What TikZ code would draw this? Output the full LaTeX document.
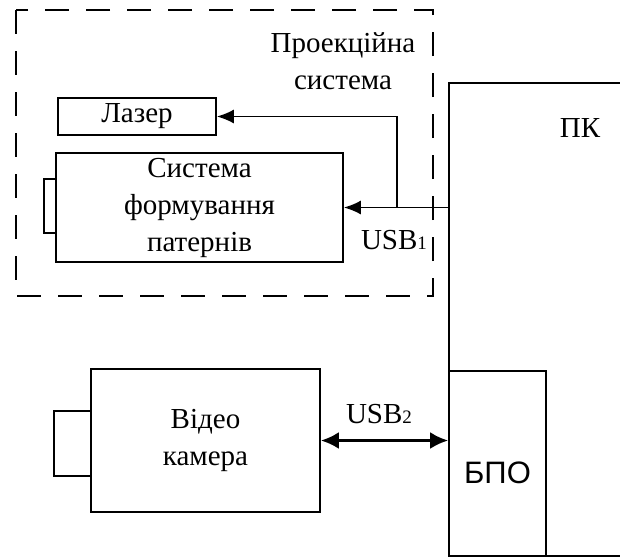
\documentclass[tikz,border=0pt]{standalone}
\usepackage{fontspec}
\setmainfont{Liberation Serif}
\newfontfamily\arialfont{Liberation Sans}
\usetikzlibrary{arrows.meta}

\begin{document}
\begin{tikzpicture}[x=1pt,y=-1pt,
    blk/.style={draw, line width=1.7pt, inner sep=0pt, align=center,
      font=\fontsize{29}{37}\selectfont},
    lbl/.style={inner sep=0pt, align=center, font=\fontsize{29}{37}\selectfont},
    link/.style={line width=1.7pt, -{Latex[length=17pt,width=14pt]}}]
    \useasboundingbox (0,0) rectangle (620,558);
    \clip (0,0) rectangle (620,558);

    % Projection system
    \draw[line width=1.8pt, dash pattern=on 24pt off 17pt] (16,10) rectangle (433,296);
    \node[lbl] (proj) at (343,61) {Проекційна\\система};
    \node[blk, minimum width=158, minimum height=37] (laser) at (137,116.5) {Лазер};
    \node[blk, minimum width=287, minimum height=109] (sys) at (199.5,207.5)
        {Система\\формування\\патернів};
    \node[blk, minimum width=12, minimum height=54] (tab) at (50,206) {};

    % PC
    \node[blk, minimum width=200, minimum height=473] (pc) at (549,319.5) {};
    \node[lbl] (pclbl) at (580,128) {ПК};
    \node[blk, minimum width=97, minimum height=185] (bpo) at (497.5,463.5) {};
    \node[lbl, font=\arialfont\fontsize{31}{34}\selectfont] (bpolbl) at ([yshift=-9pt]bpo.center) {БПО};

    % Camera
    \node[blk, minimum width=229, minimum height=143] (cam) at (205.5,440.5)
        {Відео\\камера};
    \node[blk, minimum width=37, minimum height=65] (lens) at (72.5,443.5) {};

    % Links
    \coordinate (br) at (397,207.5);
    \draw[link] (sys.east -| pc.west) -- (sys.east);
    \draw[link] (br) |- (laser.east);
    \node[lbl] (usb1) at (394,240) {USB{\fontsize{19}{19}\selectfont 1}};
    \draw[line width=3pt, {Latex[length=18pt,width=17pt]}-{Latex[length=18pt,width=17pt]}]
        (cam.east) -- (cam.east -| bpo.west);
    \node[lbl] (usb2) at (379,414) {USB{\fontsize{19}{19}\selectfont 2}};
\end{tikzpicture}
\end{document}
